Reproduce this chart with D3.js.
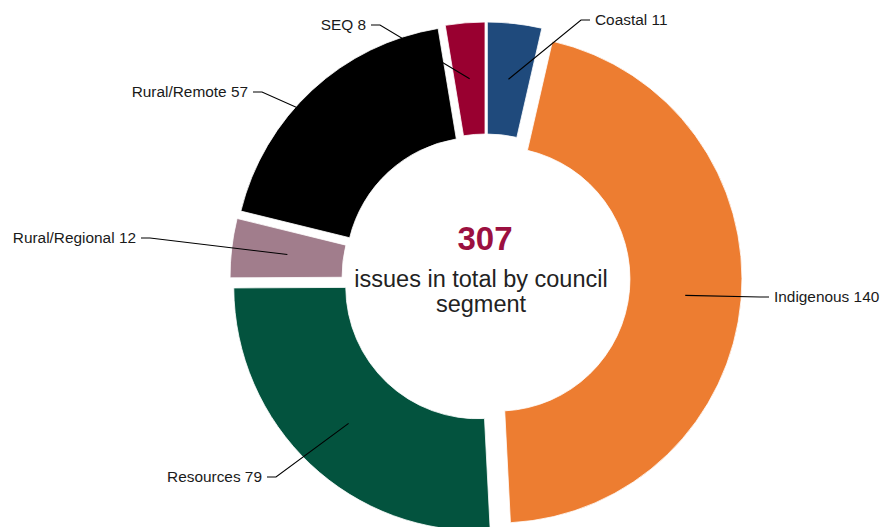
<!DOCTYPE html>
<html>
<head>
<meta charset="utf-8">
<script src="https://cdn.jsdelivr.net/npm/d3@7"></script>
<style>
  body { margin: 0; background: #fff; }
  text { font-family: "Liberation Sans", Arial, sans-serif; }
</style>
</head>
<body>
<script>
// Issues by council segment, clockwise from the top.
var segments = ["Coastal", "Indigenous", "Resources", "Rural/Regional", "Rural/Remote", "SEQ"];
var issues = [11, 140, 79, 12, 57, 8];
var colours = ["#1f4a7c", "#ed7d31", "#03533e", "#a17d8c", "#000000", "#990030"];

// Where each callout label sits (elbow point) and which way it runs.
var labelAt = {
    "Coastal":        { x: 581, y: 20, side: 1 },
    "Indigenous":     { x: 760, y: 297, side: 1 },
    "Resources":      { x: 276, y: 477, side: -1 },
    "Rural/Regional": { x: 150, y: 238, side: -1 },
    "Rural/Remote":   { x: 262, y: 92, side: -1 },
    "SEQ":            { x: 380, y: 25, side: -1 }
};

var width = 882;
var height = 527;
var cx = 486, cy = 278;
var outerR = 244, innerR = 132, explode = 12;

var data = segments.map(function (s, i) {
    return { segment: s, value: issues[i], colour: colours[i] };
});
var total = d3.sum(issues);

var pie = d3.pie()
            .sort(null)
            .value(function (d) { return d.value; });

var arc = d3.arc()
            .innerRadius(innerR)
            .outerRadius(outerR);

var svg = d3.select("body").append("svg")
            .attr("width", width)
            .attr("height", height);

var g = svg.append("g")
           .attr("transform", "translate(" + cx + ", " + cy + ")");

// Push every slice outward along its mid angle.
function shift (d) {
    var a = (d.startAngle + d.endAngle) / 2;
    return [Math.sin(a) * explode, -Math.cos(a) * explode];
}

var arcs = pie(data);

g.selectAll(".slice")
 .data(arcs)
 .enter()
 .append("path")
 .attr("class", "slice")
 .attr("transform", function (d) { var s = shift(d); return "translate(" + s[0] + ", " + s[1] + ")"; })
 .attr("d", arc)
 .attr("fill", function (d) { return d.data.colour; })
 .attr("stroke", "#fff")
 .attr("stroke-width", 0.8);

// Leader lines from each slice centroid to its label.
var labels = svg.append("g").attr("class", "labels");

arcs.forEach(function (d) {
    var c = arc.centroid(d);
    var s = shift(d);
    var p = labelAt[d.data.segment];
    var start = [cx + c[0] + s[0], cy + c[1] + s[1]];
    var tail = p.x + p.side * 9;
    labels.append("path")
          .attr("d", d3.line()([start, [p.x, p.y], [tail, p.y]]))
          .attr("fill", "none")
          .attr("stroke", "#000")
          .attr("stroke-width", 1.1);
    labels.append("text")
          .attr("x", tail + p.side * 5)
          .attr("y", p.y + 1)
          .attr("dominant-baseline", "middle")
          .attr("text-anchor", p.side > 0 ? "start" : "end")
          .style("font-size", "15.4px")
          .style("fill", "#1a1a1a")
          .text(d.data.segment + " " + d.data.value);
});

// Total in the middle.
svg.append("text")
   .attr("x", 485)
   .attr("y", 250)
   .attr("text-anchor", "middle")
   .style("font-size", "33px")
   .style("font-weight", "bold")
   .style("fill", "#9b1040")
   .text(total);

svg.append("text")
   .attr("x", 481)
   .attr("y", 287)
   .attr("text-anchor", "middle")
   .style("font-size", "23.5px")
   .style("fill", "#222")
   .text("issues in total by council");

svg.append("text")
   .attr("x", 481)
   .attr("y", 312)
   .attr("text-anchor", "middle")
   .style("font-size", "23.5px")
   .style("fill", "#222")
   .text("segment");
</script>
</body>
</html>
